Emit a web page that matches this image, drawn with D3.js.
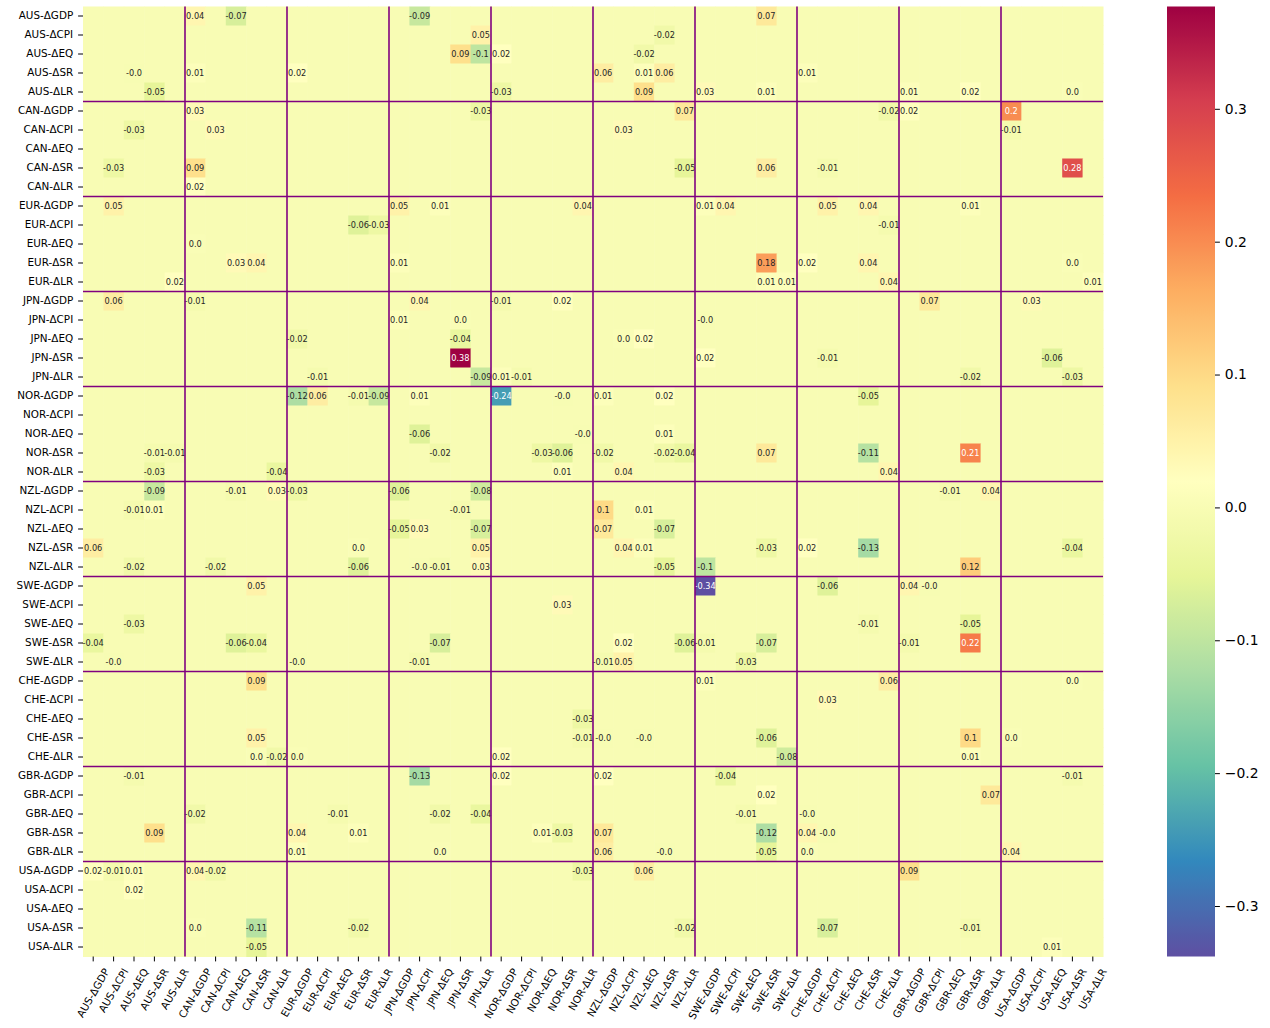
<!DOCTYPE html>
<html>
<head>
<meta charset="utf-8">
<script src="https://cdn.jsdelivr.net/npm/d3@7"></script>
<style>
  body { margin: 0; background: #fff; }
  text { font-family: "DejaVu Sans", sans-serif; }
</style>
</head>
<body>
<svg id="chart" width="1270" height="1028"></svg>
<script>
const countries = ['AUS', 'CAN', 'EUR', 'JPN', 'NOR', 'NZL', 'SWE', 'CHE', 'GBR', 'USA'];
const variables = ['ΔGDP', 'ΔCPI', 'ΔEQ', 'ΔSR', 'ΔLR'];
const colorbarTicks = [-0.3, -0.2, -0.1, 0.0, 0.1, 0.2, 0.3];

// non-zero cells only: [row, col, value]; everything else is 0
const cells = [
  [0, 5, 0.04], [0, 7, -0.07], [0, 16, -0.09], [0, 33, 0.07],
  [1, 19, 0.05], [1, 28, -0.02],
  [2, 18, 0.09], [2, 19, -0.1], [2, 20, 0.02], [2, 27, -0.02],
  [3, 2, -0.003], [3, 5, 0.01], [3, 10, 0.02], [3, 25, 0.06], [3, 27, 0.01], [3, 28, 0.06], [3, 35, 0.01],
  [4, 3, -0.05], [4, 20, -0.03], [4, 27, 0.09], [4, 30, 0.03], [4, 33, 0.01], [4, 40, 0.01], [4, 43, 0.02], [4, 48, 0.003],
  [5, 5, 0.03], [5, 19, -0.03], [5, 29, 0.07], [5, 39, -0.02], [5, 40, 0.02], [5, 45, 0.2],
  [6, 2, -0.03], [6, 6, 0.03], [6, 26, 0.03], [6, 45, -0.01],
  [8, 1, -0.03], [8, 5, 0.09], [8, 29, -0.05], [8, 33, 0.06], [8, 36, -0.01], [8, 48, 0.28],
  [9, 5, 0.02],
  [10, 1, 0.05], [10, 15, 0.05], [10, 17, 0.01], [10, 24, 0.04], [10, 30, 0.01], [10, 31, 0.04], [10, 36, 0.05], [10, 38, 0.04], [10, 43, 0.01],
  [11, 13, -0.06], [11, 14, -0.03], [11, 39, -0.01],
  [12, 5, 0.003],
  [13, 7, 0.03], [13, 8, 0.04], [13, 15, 0.01], [13, 33, 0.18], [13, 35, 0.02], [13, 38, 0.04], [13, 48, 0.003],
  [14, 4, 0.02], [14, 33, 0.01], [14, 34, 0.01], [14, 39, 0.04], [14, 49, 0.01],
  [15, 1, 0.06], [15, 5, -0.01], [15, 16, 0.04], [15, 20, -0.01], [15, 23, 0.02], [15, 41, 0.07], [15, 46, 0.03],
  [16, 15, 0.01], [16, 18, 0.003], [16, 30, -0.003],
  [17, 10, -0.02], [17, 18, -0.04], [17, 26, 0.003], [17, 27, 0.02],
  [18, 18, 0.377], [18, 30, 0.02], [18, 36, -0.01], [18, 47, -0.06],
  [19, 11, -0.01], [19, 19, -0.09], [19, 20, 0.01], [19, 21, -0.01], [19, 43, -0.02], [19, 48, -0.03],
  [20, 10, -0.12], [20, 11, 0.06], [20, 13, -0.01], [20, 14, -0.09], [20, 16, 0.01], [20, 20, -0.24], [20, 23, -0.003], [20, 25, 0.01], [20, 28, 0.02], [20, 38, -0.05],
  [22, 16, -0.06], [22, 24, -0.003], [22, 28, 0.01],
  [23, 3, -0.01], [23, 4, -0.01], [23, 17, -0.02], [23, 22, -0.03], [23, 23, -0.06], [23, 25, -0.02], [23, 28, -0.02], [23, 29, -0.04], [23, 33, 0.07], [23, 38, -0.11], [23, 43, 0.21],
  [24, 3, -0.03], [24, 9, -0.04], [24, 23, 0.01], [24, 26, 0.04], [24, 39, 0.04],
  [25, 3, -0.09], [25, 7, -0.01], [25, 9, 0.03], [25, 10, -0.03], [25, 15, -0.06], [25, 19, -0.08], [25, 42, -0.01], [25, 44, 0.04],
  [26, 2, -0.01], [26, 3, 0.01], [26, 18, -0.01], [26, 25, 0.1], [26, 27, 0.01],
  [27, 15, -0.05], [27, 16, 0.03], [27, 19, -0.07], [27, 25, 0.07], [27, 28, -0.07],
  [28, 0, 0.06], [28, 13, 0.003], [28, 19, 0.05], [28, 26, 0.04], [28, 27, 0.01], [28, 33, -0.03], [28, 35, 0.02], [28, 38, -0.13], [28, 48, -0.04],
  [29, 2, -0.02], [29, 6, -0.02], [29, 13, -0.06], [29, 16, -0.003], [29, 17, -0.01], [29, 19, 0.03], [29, 28, -0.05], [29, 30, -0.1], [29, 43, 0.12],
  [30, 8, 0.05], [30, 30, -0.338], [30, 36, -0.06], [30, 40, 0.04], [30, 41, -0.003],
  [31, 23, 0.03],
  [32, 2, -0.03], [32, 38, -0.01], [32, 43, -0.05],
  [33, 0, -0.04], [33, 7, -0.06], [33, 8, -0.04], [33, 17, -0.07], [33, 26, 0.02], [33, 29, -0.06], [33, 30, -0.01], [33, 33, -0.07], [33, 40, -0.01], [33, 43, 0.22],
  [34, 1, -0.003], [34, 10, -0.003], [34, 16, -0.01], [34, 25, -0.01], [34, 26, 0.05], [34, 32, -0.03],
  [35, 8, 0.09], [35, 30, 0.01], [35, 39, 0.06], [35, 48, 0.003],
  [36, 36, 0.03],
  [37, 24, -0.03],
  [38, 8, 0.05], [38, 24, -0.01], [38, 25, -0.003], [38, 27, -0.003], [38, 33, -0.06], [38, 43, 0.1], [38, 45, 0.003],
  [39, 8, 0.003], [39, 9, -0.02], [39, 10, 0.003], [39, 20, 0.02], [39, 34, -0.08], [39, 43, 0.01],
  [40, 2, -0.01], [40, 16, -0.13], [40, 20, 0.02], [40, 25, 0.02], [40, 31, -0.04], [40, 48, -0.01],
  [41, 33, 0.02], [41, 44, 0.07],
  [42, 5, -0.02], [42, 12, -0.01], [42, 17, -0.02], [42, 19, -0.04], [42, 32, -0.01], [42, 35, -0.003],
  [43, 3, 0.09], [43, 10, 0.04], [43, 13, 0.01], [43, 22, 0.01], [43, 23, -0.03], [43, 25, 0.07], [43, 33, -0.12], [43, 35, 0.04], [43, 36, -0.003],
  [44, 10, 0.01], [44, 17, 0.003], [44, 25, 0.06], [44, 28, -0.003], [44, 33, -0.05], [44, 35, 0.003], [44, 45, 0.04],
  [45, 0, 0.02], [45, 1, -0.01], [45, 2, 0.01], [45, 5, 0.04], [45, 6, -0.02], [45, 24, -0.03], [45, 27, 0.06], [45, 40, 0.09],
  [46, 2, 0.02],
  [48, 5, 0.003], [48, 8, -0.11], [48, 13, -0.02], [48, 29, -0.02], [48, 36, -0.07], [48, 43, -0.01],
  [49, 8, -0.05], [49, 47, 0.01]
];

const labels = countries.flatMap(c => variables.map(v => `${c}-${v}`));
const n = labels.length;

// full matrix, zeros where nothing given
const matrix = [];
for (let r = 0; r < n; r++) {
  for (let c = 0; c < n; c++) matrix.push({ r, c, v: 0 });
}
cells.forEach(([r, c, v]) => { matrix[r * n + c].v = v; });

const plotLeft = 83, plotTop = 6.5, plotRight = 1103, plotBottom = 956.5;
const tickLen = 4.9, tickPad = 4.9, labelSize = 10.4;

const svg = d3.select('#chart');

const x = d3.scaleBand().domain(d3.range(n)).range([plotLeft, plotRight]);
const y = d3.scaleBand().domain(d3.range(n)).range([plotTop, plotBottom]);

// Spectral_r, linear segments like matplotlib
const [vmin, vmax] = d3.extent(matrix, d => d.v);
const stops = d3.schemeSpectral[11].slice().reverse();
const color = d3.scaleLinear()
  .domain(stops.map((s, i) => vmin + (vmax - vmin) * i / 10))
  .range(stops)
  .interpolate(d3.interpolateRgb)
  .clamp(true);

// same rule seaborn uses to pick annotation colour
function luminance(c) {
  const rgb = d3.rgb(c);
  const lin = [rgb.r, rgb.g, rgb.b].map(u => {
    u = u / 255;
    return u <= 0.03928 ? u / 12.92 : Math.pow((u + 0.055) / 1.055, 2.4);
  });
  return 0.2126 * lin[0] + 0.7152 * lin[1] + 0.0722 * lin[2];
}

// python-like str(round(v, 2))
function fmt(v) {
  const a = Math.round(Math.abs(v) * 100) / 100;
  const s = Number.isInteger(Math.round(a * 100) / 10) ? a.toFixed(1) : a.toFixed(2);
  return (v < 0 ? '-' : '') + s;
}

svg.append('g')
  .selectAll('rect')
  .data(matrix)
  .enter()
  .append('rect')
  .attr('x', d => x(d.c))
  .attr('y', d => y(d.r))
  .attr('width', x.bandwidth() + 0.5)
  .attr('height', y.bandwidth() + 0.5)
  .attr('fill', d => color(d.v));

// annotations
svg.append('g')
  .selectAll('text')
  .data(matrix.filter(d => d.v !== 0))
  .enter()
  .append('text')
  .attr('x', d => x(d.c) + x.bandwidth() / 2)
  .attr('y', d => y(d.r) + y.bandwidth() / 2)
  .attr('dy', '0.35em')
  .attr('text-anchor', 'middle')
  .style('font-size', '8.2px')
  .style('fill', d => luminance(color(d.v)) > 0.408 ? '#262626' : '#fff')
  .text(d => fmt(d.v));

// block separators between countries
const lines = svg.append('g').attr('stroke', 'purple').attr('stroke-width', 1.6);
for (let i = 1; i < countries.length; i++) {
  const k = i * variables.length;
  lines.append('line').attr('x1', x(k)).attr('x2', x(k)).attr('y1', plotTop).attr('y2', plotBottom);
  lines.append('line').attr('x1', plotLeft).attr('x2', plotRight).attr('y1', y(k)).attr('y2', y(k));
}

// y axis
const yAxis = svg.append('g')
  .attr('transform', `translate(${plotLeft},0)`)
  .call(d3.axisLeft(y).tickSize(tickLen).tickPadding(tickPad).tickFormat(i => labels[i]));
yAxis.select('.domain').remove();
yAxis.selectAll('text').style('font-size', labelSize + 'px').attr('fill', '#000');
yAxis.selectAll('line').attr('stroke', '#000');

// x axis, rotated labels centred on the tick (matplotlib default alignment)
const xAxis = svg.append('g')
  .attr('transform', `translate(0,${plotBottom})`)
  .call(d3.axisBottom(x).tickSize(tickLen).tickFormat(i => labels[i]));
xAxis.select('.domain').remove();
xAxis.selectAll('line').attr('stroke', '#000');
const angle = 60;
const theta = angle * Math.PI / 180;
const asc = 0.93 * labelSize, desc = 0.24 * labelSize;
xAxis.selectAll('text')
  .style('font-size', labelSize + 'px')
  .attr('fill', '#000')
  .attr('text-anchor', 'start')
  .attr('y', 0)
  .attr('dy', 0)
  .each(function () {
    const L = this.getComputedTextLength();
    const cx = (L * Math.cos(theta) + (desc - asc) * Math.sin(theta)) / 2;
    const ay = tickLen + tickPad + L * Math.sin(theta) + asc * Math.cos(theta);
    d3.select(this).attr('transform', `translate(${-cx},${ay}) rotate(${-angle})`);
  });

// colorbar
const cbLeft = 1167, cbWidth = 48;
const cScale = d3.scaleLinear().domain([vmin, vmax]).range([plotBottom, plotTop]);
const grad = svg.append('defs').append('linearGradient')
  .attr('id', 'cbgrad')
  .attr('x1', 0).attr('x2', 0).attr('y1', 1).attr('y2', 0);
d3.range(0, 1.0001, 0.01).forEach(t => {
  grad.append('stop')
    .attr('offset', t)
    .attr('stop-color', color(vmin + (vmax - vmin) * t));
});
svg.append('rect')
  .attr('x', cbLeft)
  .attr('y', plotTop)
  .attr('width', cbWidth)
  .attr('height', plotBottom - plotTop)
  .attr('fill', 'url(#cbgrad)');

const cbAxis = svg.append('g')
  .attr('transform', `translate(${cbLeft + cbWidth},0)`)
  .call(d3.axisRight(cScale).tickValues(colorbarTicks).tickSize(tickLen).tickPadding(tickPad)
    .tickFormat(d => d.toFixed(1).replace('-', '\u2212')));
cbAxis.select('.domain').remove();
cbAxis.selectAll('line').attr('stroke', '#000');
cbAxis.selectAll('text').style('font-size', '13.9px').attr('fill', '#000');
</script>
</body>
</html>
